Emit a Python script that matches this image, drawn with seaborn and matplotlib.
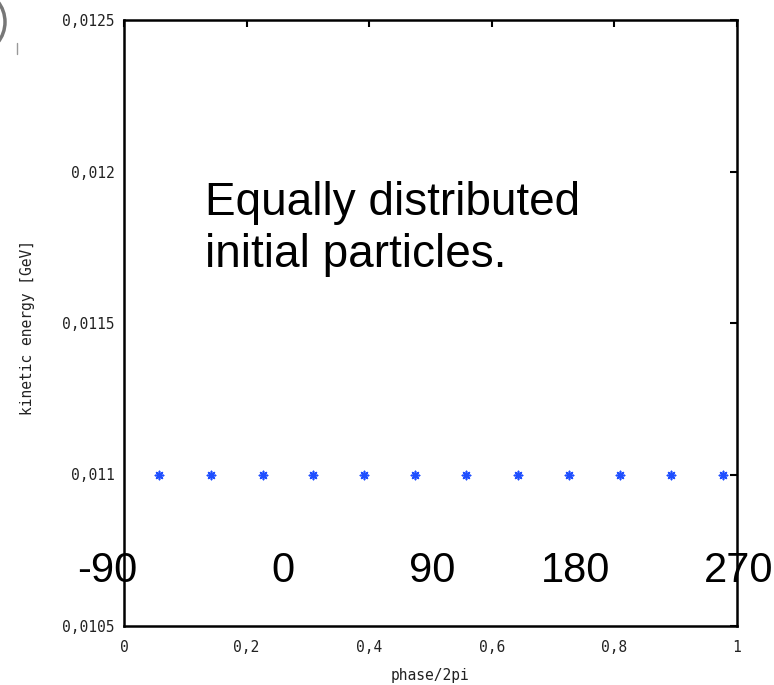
import matplotlib
matplotlib.use("Agg")
import matplotlib.pyplot as plt
from matplotlib.patches import Ellipse
import seaborn as sns
import pandas as pd

# Initial particle phases (in units of 2*pi) and their kinetic energies [GeV]
phase = [0.057, 0.142, 0.227, 0.308, 0.392, 0.475, 0.558, 0.643, 0.726, 0.809, 0.892, 0.977]
energy = [0.011] * len(phase)

x_ticks = [0, 0.2, 0.4, 0.6, 0.8, 1]
x_tick_labels = ["0", "0,2", "0,4", "0,6", "0,8", "1"]
y_ticks = [0.0105, 0.011, 0.0115, 0.012, 0.0125]
y_tick_labels = ["0,0105", "0,011", "0,0115", "0,012", "0,0125"]

degree_labels = ["-90", "0", "90", "180", "270"]
degree_x = [-0.028, 0.259, 0.502, 0.736, 1.003]

df = pd.DataFrame({"phase": phase, "energy": energy})

sns.set_theme(style="white")
plt.rcParams["font.family"] = ["DejaVu Sans Mono"]

fig = plt.figure(figsize=(7.74, 6.85), dpi=100)
ax = fig.add_axes([124 / 774, 59 / 685, 613 / 774, 606 / 685])

sns.scatterplot(data=df, x="phase", y="energy", ax=ax, marker=(8, 2, 0),
                color="#1f4fff", s=34, linewidth=1.2, legend=False)

ax.set_xlim(0, 1)
ax.set_ylim(0.0105, 0.0125)
ax.set_xticks(x_ticks, x_tick_labels)
ax.set_yticks(y_ticks, y_tick_labels)
ax.tick_params(direction="in", length=5, width=1.5, color="black",
               top=True, right=True, labelsize=10.5, labelcolor="#222222")
ax.tick_params(axis="x", pad=10)
ax.tick_params(axis="y", pad=7)
for side in ax.spines.values():
    side.set_color("black")
    side.set_linewidth(1.8)

ax.set_xlabel("phase/2pi", fontsize=10.5, color="#222222", va="center")
ax.set_ylabel("kinetic energy [GeV]", fontsize=10.5, color="#222222", va="center")
ax.xaxis.set_label_coords(0.5, -0.081)
ax.yaxis.set_label_coords(-0.158, 0.493)

note = dict(family="Liberation Sans", fontsize=33, color="black", va="baseline", ha="left")
ax.text(0.132, 0.678, "Equally distributed", transform=ax.transAxes, **note)
ax.text(0.132, 0.592, "initial particles.", transform=ax.transAxes, **note)

deg = dict(family="Liberation Sans", fontsize=30, color="black", va="baseline", ha="center")
for lab, xp in zip(degree_labels, degree_x):
    ax.text(xp, 0.0726, lab, transform=ax.transAxes, clip_on=False, **deg)

# Edge of a round badge in the upper-left corner
fig.patches.append(Ellipse((-20 / 774, 1 - 22 / 685), 50 / 774, 58 / 685,
                           transform=fig.transFigure, facecolor="white",
                           edgecolor="#777777", linewidth=2.5))
fig.add_artist(plt.Line2D([16.5 / 774, 16.5 / 774], [1 - 43 / 685, 1 - 54 / 685],
                          transform=fig.transFigure, color="#999999", linewidth=1))

fig.savefig("out.png", dpi=100)
